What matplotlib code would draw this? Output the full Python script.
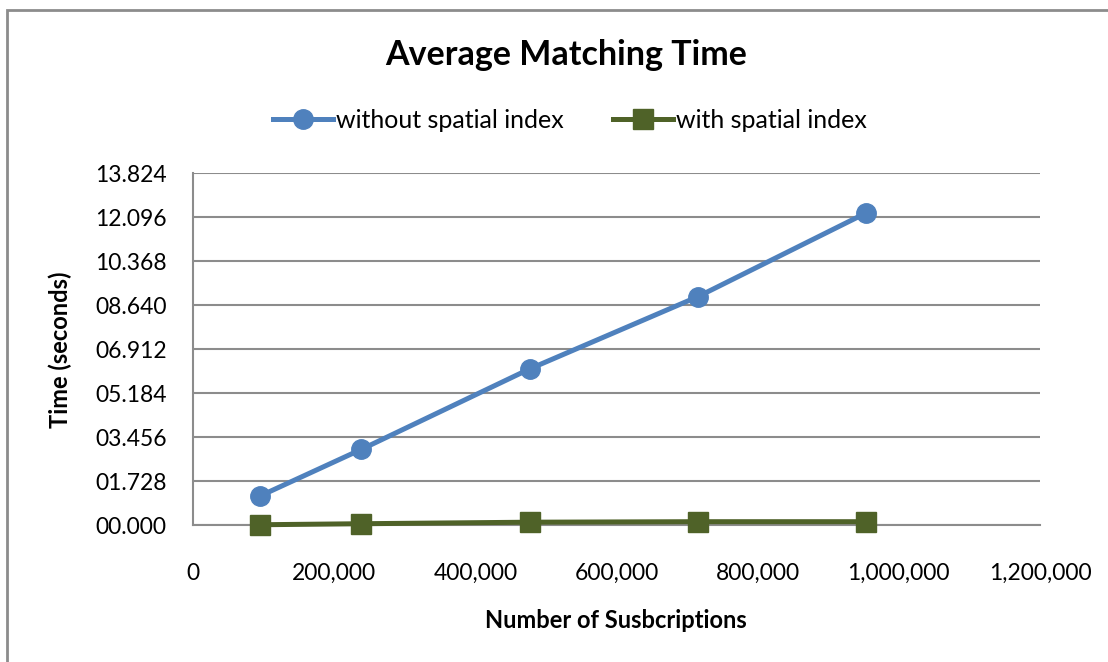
import numpy as np
import matplotlib.pyplot as plt
from matplotlib.patches import Rectangle
from matplotlib.ticker import FuncFormatter

plt.rcParams['font.family'] = ['Lato', 'DejaVu Sans']

# data
subscriptions = [95000, 238500, 477000, 715500, 954000]
without_index = [1.14, 2.97, 6.13, 8.97, 12.26]
with_index = [0.01, 0.05, 0.11, 0.13, 0.13]

y_ticks = [0, 1.728, 3.456, 5.184, 6.912, 8.640, 10.368, 12.096, 13.824]
x_ticks = [0, 200000, 400000, 600000, 800000, 1000000, 1200000]

blue = '#4f81bd'
green = '#4f6228'
grey = '#8c8c8c'

fig = plt.figure(figsize=(11.08, 6.62), dpi=100)
ax = fig.add_axes([193/1108, 1-525/662, (1040-193)/1108, (525-173)/662])

ax.plot(subscriptions, without_index, color=blue, lw=3.6, marker='o', ms=14,
        label='without spatial index', clip_on=False, zorder=3)
ax.plot(subscriptions, with_index, color=green, lw=3.6, marker='s', ms=14,
        label='with spatial index', clip_on=False, zorder=3)

ax.set_xlim(0, 1200000)
ax.set_ylim(0, 13.824)
ax.set_yticks(y_ticks)
ax.set_xticks(x_ticks)
ax.yaxis.set_major_formatter(FuncFormatter(lambda v, p: '%06.3f' % v))
ax.xaxis.set_major_formatter(FuncFormatter(lambda v, p: '{:,.0f}'.format(v)))
ax.tick_params(length=0, labelsize=16.5, colors='black')
ax.tick_params(axis='y', pad=19)
ax.tick_params(axis='x', pad=27)

ax.grid(axis='y', color=grey, lw=1.5)
ax.set_axisbelow(True)
for s in ['top', 'right']:
    ax.spines[s].set_visible(False)
for s in ['left', 'bottom']:
    ax.spines[s].set_color(grey)
    ax.spines[s].set_linewidth(1.5)

fig.text(616/1108, 1-620/662, 'Number of Susbcriptions', fontsize=17, fontweight='bold',
         ha='center', va='center')
fig.text(60/1108, 1-350/662, 'Time (seconds)', fontsize=17, fontweight='bold',
         ha='center', va='center', rotation=90)

fig.text(566/1108, 1-55/662, 'Average Matching Time', fontsize=24.5, fontweight='bold',
         ha='center', va='center')

fig.legend(loc='center', bbox_to_anchor=(570/1108, 1-120/662), ncol=2, frameon=False,
           fontsize=18, handlelength=2.4, columnspacing=2.0, handletextpad=0.1)

# outer frame like the spreadsheet chart area
fig.patches.append(Rectangle((7/1108, -0.05), 1.2, 1-10/662+0.05, transform=fig.transFigure,
                             fill=False, edgecolor=grey, lw=2))

plt.savefig('out.png', dpi=100)
